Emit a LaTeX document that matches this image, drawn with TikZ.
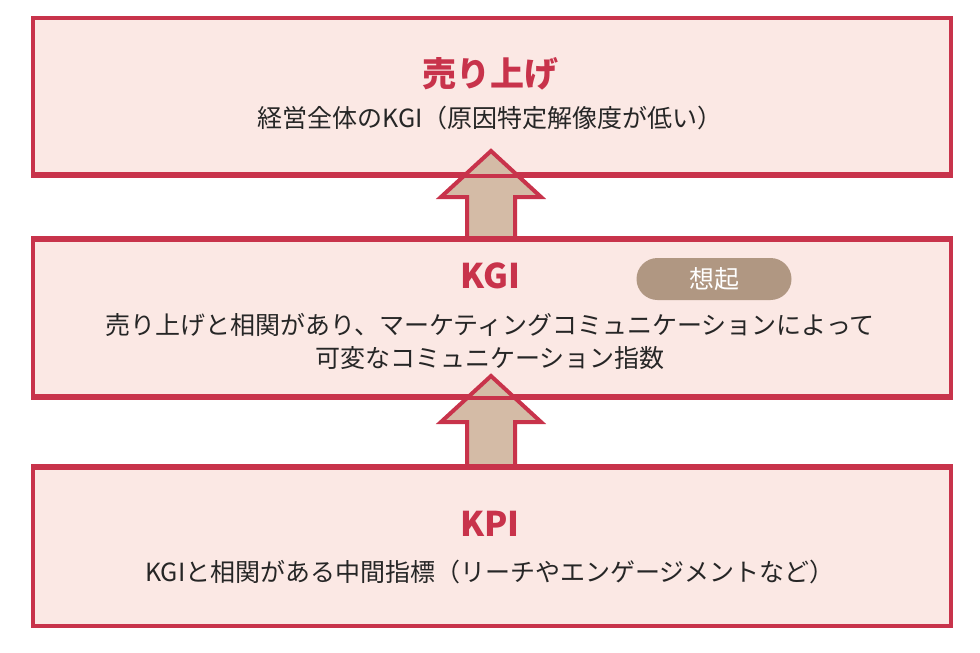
\documentclass[tikz,border=0pt]{standalone}
\usepackage{fontspec}
\setmainfont{Noto Sans CJK JP}
\definecolor{cr}{HTML}{C8334B}
\definecolor{bf}{HTML}{FBE8E4}
\definecolor{af}{HTML}{D4BBA6}
\definecolor{bd}{HTML}{B09782}
\begin{document}
\begin{tikzpicture}[x=1pt,y=-1pt,
  box/.style={draw=cr,line width=4pt,fill=bf},
  upar/.style={draw=cr,line width=4pt,fill=af,line join=miter},
  ttl/.style={text=cr,font=\fontsize{34}{40}\selectfont\bfseries},
  bdy/.style={font=\fontsize{25}{33}\selectfont,align=center,text=black!85}]
\useasboundingbox (0,0) rectangle (980,653);
\fill[white] (0,0) rectangle (980,653);
\node[box,minimum width=918,minimum height=156,anchor=north west] (b1) at (31,16) {};
\node[box,minimum width=918,minimum height=156,anchor=north west] (b2) at (31,238) {};
\node[box,minimum width=918,minimum height=158,anchor=north west] (b3) at (31,466) {};
\draw[upar] (467,238) -- (467,197) -- (441,197) -- (491,151) -- (541,197) -- (515,197) -- (515,238);
\draw[upar] (467,466) -- (467,422) -- (441,422) -- (491,376) -- (541,422) -- (515,422) -- (515,466);
\draw[cr,line width=4pt] (b1.south west) -- (b1.south east);
\draw[cr,line width=4pt] (b2.north west) -- (b2.north east);
\draw[cr,line width=4pt] (b2.south west) -- (b2.south east);
\draw[cr,line width=4pt] (b3.north west) -- (b3.north east);
\node[ttl] (t1) at (490,74) {売り上げ};
\node[bdy] (d1) at (490,118) {経営全体のKGI（原因特定解像度が低い）};
\node[ttl] (t2) at (490,276) {KGI};
\node[fill=bd,rounded corners=21pt,minimum width=155,minimum height=42,text=white,font=\fontsize{25}{28}\selectfont] (bg) at (714,279) {想起};
\node[bdy] (d2) at (490,341) {売り上げと相関があり、マーケティングコミュニケーションによって\\可変なコミュニケーション指数};
\node[ttl] (t3) at (490,524) {KPI};
\node[bdy] (d3) at (490,572) {KGIと相関がある中間指標（リーチやエンゲージメントなど）};
\end{tikzpicture}
\end{document}
